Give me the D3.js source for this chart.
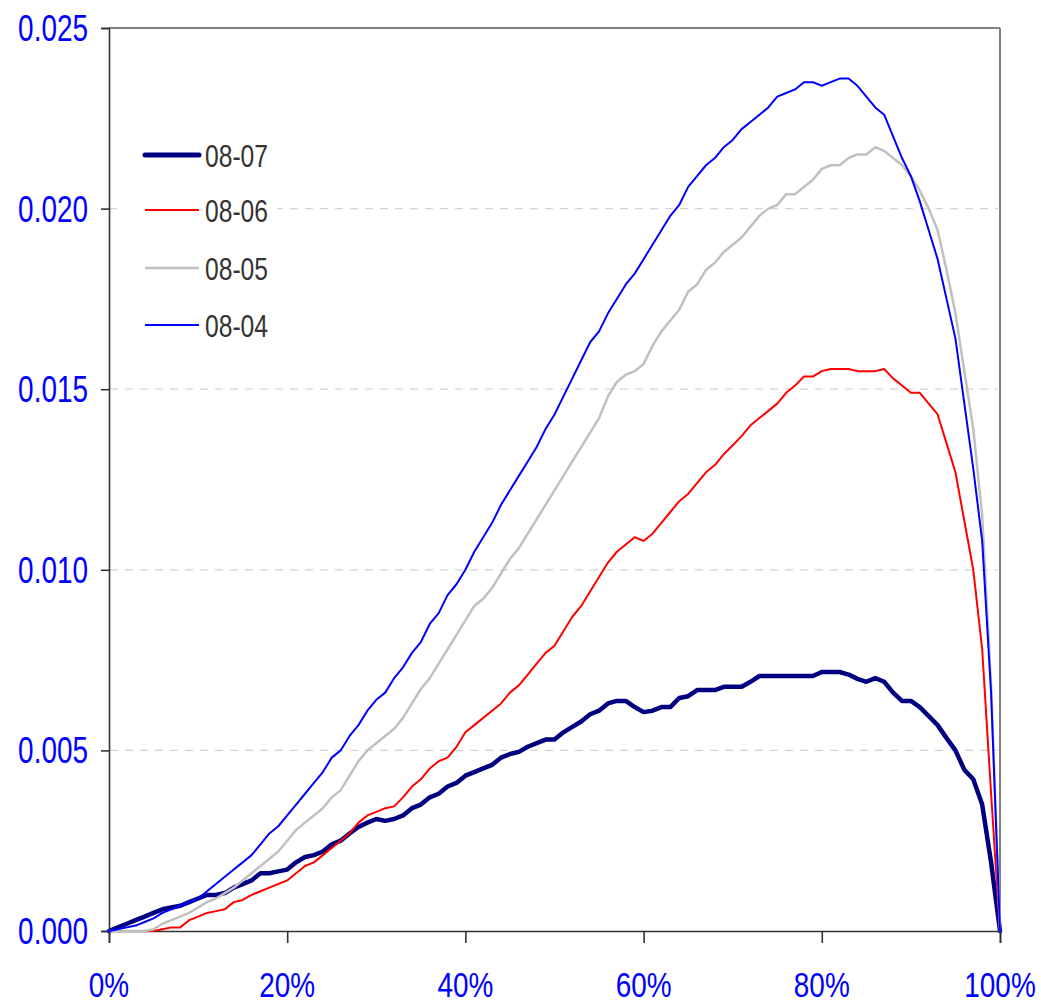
<!DOCTYPE html>
<html>
<head>
<meta charset="utf-8">
<script src="https://cdn.jsdelivr.net/npm/d3@7"></script>
<style>
  html, body { margin: 0; padding: 0; background: #fff; }
  svg { display: block; }
</style>
</head>
<body>
<svg id="chart" width="1041" height="1005"></svg>
<script>
// x positions: 0% .. 100% in 1% steps
const xPercent = d3.range(0, 101);

const seriesNames = ["08-07", "08-06", "08-05", "08-04"];
const seriesColors = ["#000080", "#ff0000", "#c0c0c0", "#0000ff"];
const seriesWidths = [4.5, 2, 2.5, 2];

const s0807 = [
  0, 0.0001, 0.0002, 0.0003, 0.0004, 0.0005, 0.0006, 0.00065, 0.0007, 0.0008,
  0.0009, 0.001, 0.001, 0.00105, 0.0012, 0.0013, 0.0014, 0.0016, 0.0016, 0.00165,
  0.0017, 0.0019, 0.00205, 0.0021, 0.0022, 0.0024, 0.0025, 0.0027, 0.00288, 0.003,
  0.0031, 0.00305, 0.0031, 0.0032, 0.0034, 0.0035, 0.0037, 0.0038, 0.004, 0.0041,
  0.0043, 0.0044, 0.0045, 0.0046, 0.0048, 0.0049, 0.00496, 0.0051, 0.0052, 0.0053,
  0.0053, 0.0055, 0.00565, 0.0058, 0.006, 0.0061, 0.0063, 0.00637, 0.00637, 0.0062,
  0.00606, 0.0061, 0.0062, 0.0062, 0.00645, 0.0065, 0.00667, 0.00667, 0.00667, 0.00676,
  0.00676, 0.00676, 0.0069, 0.00706, 0.00706, 0.00706, 0.00706, 0.00706, 0.00706, 0.00706,
  0.00717, 0.00717, 0.00717, 0.0071, 0.00698, 0.0069, 0.007, 0.0069, 0.0066, 0.00637,
  0.00637, 0.0062, 0.00595, 0.0057, 0.00534, 0.005, 0.00446, 0.0042, 0.0035, 0.0019,
  0
];

const s0806 = [
  0, 0, 0, 0, 0, 0, 0.00005, 0.0001, 0.0001, 0.0003,
  0.0004, 0.0005, 0.00055, 0.0006, 0.0008, 0.00086, 0.001, 0.0011, 0.0012, 0.0013,
  0.0014, 0.0016, 0.0018, 0.0019, 0.0021, 0.0023, 0.0025, 0.0027, 0.003, 0.0032,
  0.0033, 0.0034, 0.00345, 0.0037, 0.004, 0.0042, 0.0045, 0.0047, 0.0048, 0.0051,
  0.0055, 0.0057, 0.0059, 0.0061, 0.0063, 0.0066, 0.0068, 0.0071, 0.0074, 0.0077,
  0.0079, 0.0083, 0.0087, 0.009, 0.0094, 0.0098, 0.0102, 0.0105, 0.0107, 0.0109,
  0.0108, 0.011, 0.0113, 0.0116, 0.0119, 0.0121, 0.0124, 0.0127, 0.0129, 0.0132,
  0.01345, 0.0137, 0.014, 0.0142, 0.0144, 0.0146, 0.0149, 0.0151, 0.01535, 0.01535,
  0.0155, 0.01556, 0.01556, 0.01556, 0.0155, 0.0155, 0.0155, 0.01556, 0.0153, 0.0151,
  0.0149, 0.0149, 0.0146, 0.0143, 0.0135, 0.0127, 0.01135, 0.01, 0.0078, 0.0038,
  0
];

const s0805 = [
  0, 0, 0, 0, 0, 0.00005, 0.0002, 0.0003, 0.0004, 0.0005,
  0.00065, 0.0008, 0.0009, 0.00105, 0.0012, 0.0014, 0.0016, 0.0018, 0.002, 0.0022,
  0.0025, 0.0028, 0.003, 0.0032, 0.0034, 0.0037, 0.0039, 0.0043, 0.0047, 0.005,
  0.0052, 0.0054, 0.0056, 0.0059, 0.0063, 0.0067, 0.007, 0.0074, 0.0078, 0.0082,
  0.0086, 0.009, 0.0092, 0.0095, 0.0099, 0.0103, 0.0106, 0.011, 0.0114, 0.0118,
  0.0122, 0.0126, 0.013, 0.0134, 0.0138, 0.0142, 0.0148, 0.0152, 0.0154, 0.0155,
  0.0157, 0.0162, 0.0166, 0.0169, 0.0172, 0.0177, 0.0179, 0.0183, 0.0185, 0.0188,
  0.019, 0.0192, 0.0195, 0.0198, 0.02, 0.0201, 0.0204, 0.0204, 0.0206, 0.0208,
  0.0211, 0.0212, 0.0212, 0.0214, 0.0215, 0.0215, 0.0217, 0.0216, 0.0214, 0.0212,
  0.0209, 0.0205, 0.02, 0.0194, 0.0183, 0.0171, 0.0155, 0.0139, 0.0115, 0.0068,
  0
];

const s0804 = [
  0, 0.00005, 0.0001, 0.00015, 0.00025, 0.00035, 0.0005, 0.0006, 0.0007, 0.0008,
  0.0009, 0.0011, 0.0013, 0.0015, 0.0017, 0.0019, 0.0021, 0.0024, 0.0027, 0.0029,
  0.0032, 0.0035, 0.0038, 0.0041, 0.0044, 0.0048, 0.005, 0.0054, 0.0057, 0.0061,
  0.0064, 0.0066, 0.007, 0.0073, 0.0077, 0.008, 0.0085, 0.0088, 0.0093, 0.0096,
  0.01, 0.0105, 0.0109, 0.0113, 0.0118, 0.0122, 0.0126, 0.013, 0.0134, 0.0139,
  0.0143, 0.0148, 0.0153, 0.0158, 0.0163, 0.0166, 0.0171, 0.0175, 0.0179, 0.0182,
  0.0186, 0.019, 0.0194, 0.0198, 0.0201, 0.0206, 0.0209, 0.0212, 0.0214, 0.0217,
  0.0219, 0.0222, 0.0224, 0.0226, 0.0228, 0.0231, 0.0232, 0.0233, 0.0235, 0.0235,
  0.0234, 0.0235, 0.0236, 0.0236, 0.0234, 0.0231, 0.0228, 0.0226, 0.022, 0.0214,
  0.0209, 0.0202, 0.0194, 0.0186, 0.0175, 0.0164, 0.0146, 0.0128, 0.0108, 0.0066,
  0
];

const seriesValues = [s0807, s0806, s0805, s0804];

const yTicks = [0, 0.005, 0.010, 0.015, 0.020, 0.025];
const yTickLabels = ["0.000", "0.005", "0.010", "0.015", "0.020", "0.025"];
const xTicks = [0, 20, 40, 60, 80, 100];
const xTickLabels = ["0%", "20%", "40%", "60%", "80%", "100%"];

// ---- drawing ----
const svg = d3.select("#chart");
const plotLeft = 109, plotRight = 1000, plotTop = 28, plotBottom = 931;

const x = d3.scaleLinear().domain([0, 100]).range([plotLeft, plotRight]);
const y = d3.scaleLinear().domain([0, 0.025]).range([plotBottom, plotTop]);

const FONT = "'Liberation Sans', Arial, sans-serif";

// gridlines
svg.append("g")
  .selectAll("line")
  .data(yTicks.filter(v => v > 0 && v < 0.025))
  .join("line")
  .attr("x1", plotLeft + 1).attr("x2", plotRight - 2)
  .attr("y1", d => y(d)).attr("y2", d => y(d))
  .attr("stroke", "#d4d4d4").attr("stroke-width", 1.3)
  .attr("stroke-dasharray", "8,7");

// frame: top and right in grey
svg.append("line").attr("x1", plotLeft).attr("x2", plotRight).attr("y1", plotTop).attr("y2", plotTop)
  .attr("stroke", "#808080").attr("stroke-width", 2);
svg.append("line").attr("x1", plotRight).attr("x2", plotRight).attr("y1", plotTop).attr("y2", plotBottom)
  .attr("stroke", "#808080").attr("stroke-width", 2);

// y axis
const yAxis = d3.axisLeft(y).tickValues(yTicks).tickSize(8).tickFormat("");
const gy = svg.append("g").attr("transform", `translate(${plotLeft},0)`).call(yAxis);
gy.select(".domain").attr("stroke", "#333").attr("stroke-width", 1.6);
gy.selectAll(".tick line").attr("stroke", "#333").attr("stroke-width", 1.6);

// x axis
const xAxis = d3.axisBottom(x).tickValues(xTicks).tickSize(12).tickFormat("");
const gx = svg.append("g").attr("transform", `translate(0,${plotBottom})`).call(xAxis);
gx.select(".domain").attr("stroke", "#333").attr("stroke-width", 1.6);
gx.selectAll(".tick line").attr("stroke", "#333").attr("stroke-width", 1.6);

// y tick labels
svg.append("g").selectAll("text")
  .data(yTicks)
  .join("text")
  .attr("transform", d => `translate(88,${y(d) + 13}) scale(0.755,1)`)
  .attr("text-anchor", "end")
  .attr("font-family", FONT).attr("font-size", 37)
  .attr("fill", "#0000ff")
  .text((d, i) => yTickLabels[i]);

// x tick labels
svg.append("g").selectAll("text")
  .data(xTicks)
  .join("text")
  .attr("transform", d => `translate(${x(d)},997) scale(0.776,1)`)
  .attr("text-anchor", "middle")
  .attr("font-family", FONT).attr("font-size", 36)
  .attr("fill", "#0000ff")
  .text((d, i) => xTickLabels[i]);

// lines
const line = d3.line().x((d, i) => x(xPercent[i])).y(d => y(d));
const gl = svg.append("g");
seriesValues.forEach((vals, k) => {
  gl.append("path")
    .datum(vals)
    .attr("d", line)
    .attr("fill", "none")
    .attr("stroke", seriesColors[k])
    .attr("stroke-width", seriesWidths[k])
    .attr("stroke-linejoin", "round")
    .attr("stroke-linecap", "round");
});

// legend (white box, no border)
const legendY = [155, 210, 268, 325];
const lg = svg.append("g");
lg.append("rect")
  .attr("x", 117).attr("y", 128).attr("width", 160).attr("height", 222)
  .attr("fill", "#fff");
seriesNames.forEach((name, k) => {
  lg.append("line")
    .attr("x1", 145).attr("x2", 199)
    .attr("y1", legendY[k]).attr("y2", legendY[k])
    .attr("stroke", seriesColors[k])
    .attr("stroke-width", k === 0 ? 5 : seriesWidths[k])
    .attr("stroke-linecap", k === 0 ? "round" : "butt");
  lg.append("text")
    .attr("transform", `translate(205,${legendY[k] + 12}) scale(0.77,1)`)
    .attr("font-family", FONT).attr("font-size", 32)
    .attr("fill", "#333")
    .text(name);
});
</script>
</body>
</html>
